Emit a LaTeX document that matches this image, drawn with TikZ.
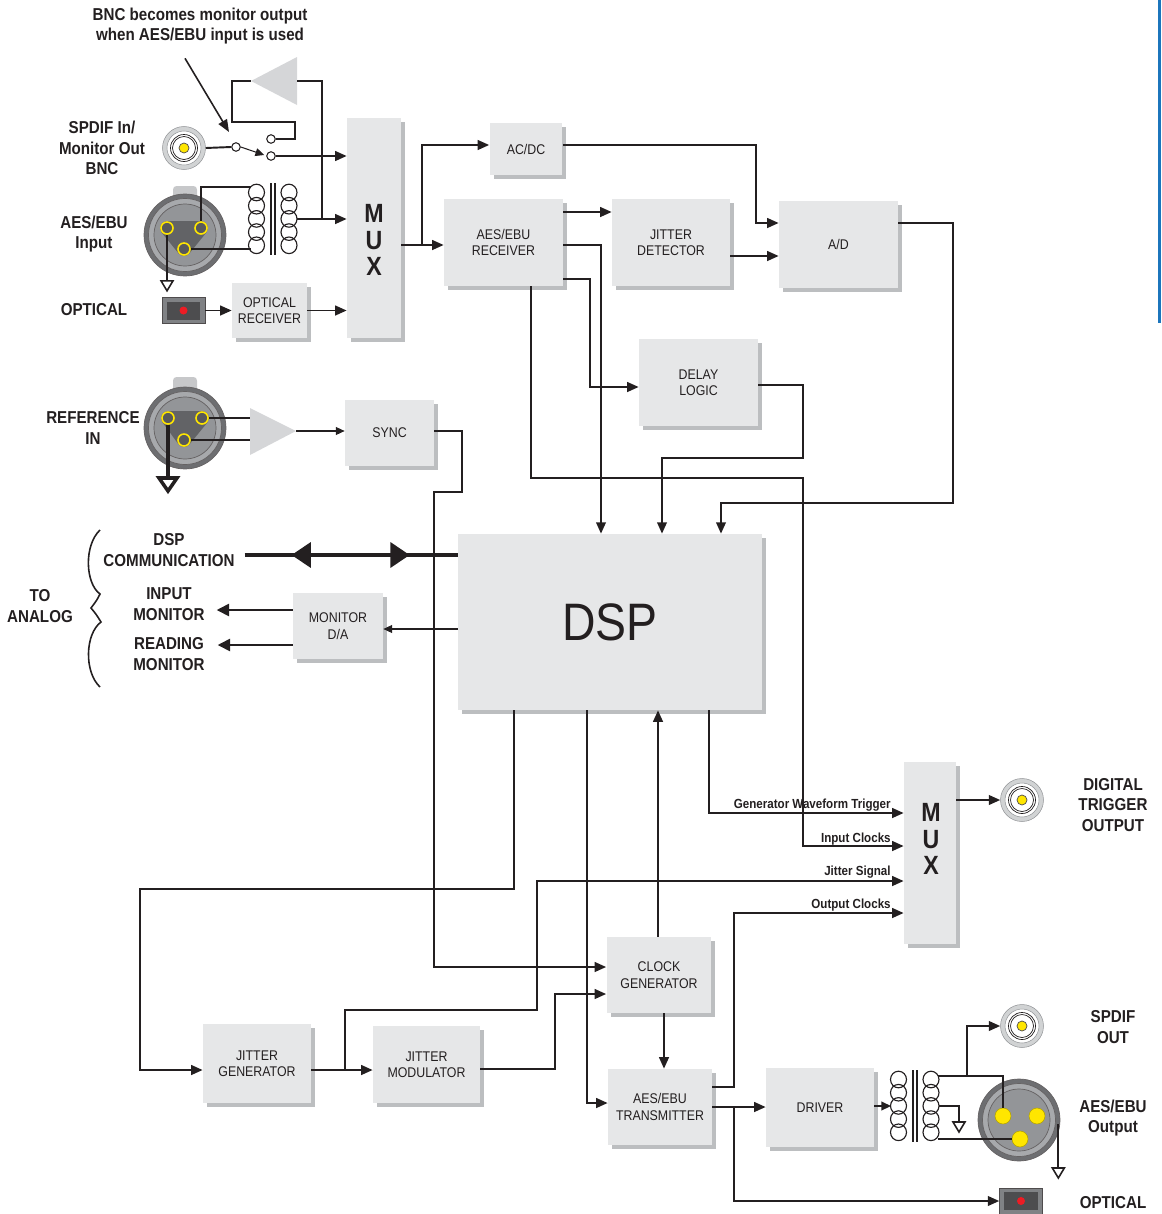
\documentclass[tikz,border=0pt]{standalone}
\usepackage{fontspec}
\setmainfont{Liberation Sans}[FakeStretch=0.88]
\usepackage{tikz}
\usetikzlibrary{calc,arrows.meta,shadows,decorations.markings}

\definecolor{boxfill}{HTML}{E6E7E8}
\definecolor{boxshadow}{HTML}{BCBEC0}
\definecolor{ink}{HTML}{231F20}
\definecolor{ampgray}{HTML}{D5D6D8}
\definecolor{pinyellow}{HTML}{FFE600}
\definecolor{pincore}{HTML}{58595B}
\definecolor{xlrouter}{HTML}{6D6E71}
\definecolor{xlrring}{HTML}{A7A9AC}
\definecolor{xlrinner}{HTML}{939598}
\definecolor{xlrcore}{HTML}{626366}
\definecolor{latchgray}{HTML}{C7C8CA}
\definecolor{bncring}{HTML}{D1D3D4}
\definecolor{optouter}{HTML}{808285}
\definecolor{optinner}{HTML}{4D4D4F}
\definecolor{optred}{HTML}{ED1C24}
\definecolor{bluebar}{HTML}{1C75BC}

\tikzstyle{block} = [rectangle, fill=boxfill, text=ink, align=center, inner sep=0pt, font=\fontsize{8}{9.4}\selectfont, general shadow={fill=boxshadow, shadow xshift=0.08cm, shadow yshift=-0.08cm}]
\tikzstyle{muxtext} = [text=ink, align=center, font=\fontsize{15}{15.3}\selectfont\bfseries]
\tikzstyle{lbl} = [text=ink, align=center, inner sep=1pt, font=\fontsize{9.8}{11.6}\selectfont\bfseries]
\tikzstyle{siglbl} = [text=ink, anchor=base east, inner sep=0pt, font=\fontsize{7.5}{9}\selectfont\bfseries]
\tikzstyle{wire} = [draw=ink, line width=1.1pt]
\tikzstyle{thinwire} = [draw=ink, line width=0.6pt]
\tikzstyle{connector} = [wire, -{Triangle[length=6.5pt,width=5.5pt]}]
\tikzstyle{thinconnector} = [thinwire, -{Triangle[length=5pt,width=4.5pt]}]
\tikzstyle{bnc} = [circle, minimum size=0.86cm, inner sep=0pt, fill=bncring, draw=xlrinner, line width=0.3pt, path picture={
    \filldraw[fill=white, draw=xlrinner, line width=0.3pt] (path picture bounding box.center) circle (0.34cm);
    \draw[ink, line width=0.4pt] (path picture bounding box.center) circle (0.27cm) (path picture bounding box.center) circle (0.23cm);
    \filldraw[fill=pinyellow, draw=ink!80, line width=0.4pt] (path picture bounding box.center) circle (0.1cm);}]
\tikzstyle{xlr} = [circle, minimum size=1.64cm, inner sep=0pt, fill=xlrouter, draw=ink!70, line width=0.4pt, path picture={
    \filldraw[fill=xlrring, draw=ink!70, line width=0.4pt] (path picture bounding box.center) circle (0.73cm);
    \filldraw[fill=xlrinner, draw=ink!70, line width=0.4pt] (path picture bounding box.center) circle (0.62cm);}]
\tikzstyle{pinin} = [circle, minimum size=0.24cm, inner sep=0pt, fill=pincore, draw=pinyellow, line width=0.9pt]
\tikzstyle{pinout} = [circle, minimum size=0.32cm, inner sep=0pt, fill=pinyellow, draw=pinyellow!70!black, line width=0.3pt]
\tikzstyle{contact} = [circle, minimum size=0.17cm, inner sep=0pt, fill=white, draw=ink, line width=0.6pt]
\tikzstyle{optjack} = [rectangle, minimum width=0.86cm, minimum height=0.52cm, inner sep=0pt, fill=optouter, draw=ink!80, line width=0.3pt, path picture={
    \fill[optinner] ([shift={(0.09cm,0.08cm)}]path picture bounding box.south west) rectangle ([shift={(-0.09cm,-0.08cm)}]path picture bounding box.north east);
    \fill[optred] (path picture bounding box.center) circle (0.08cm);}]

\newcommand{\gndsym}[1]{\draw[ink, line width=0.9pt, fill=white] ($#1+(-6,0)$) -- ($#1+(6,0)$) -- ($#1+(0,10)$) -- cycle;}
\newcommand{\coilstack}[2]{\foreach \k in {0,...,4} {\draw[ink, line width=0.65pt] (#1,{#2+7.5+13.2*\k}) ellipse (8 and 8.3);}}
\newcommand{\transformer}[2]{%
    \coilstack{#1+7.5}{#2}
    \coilstack{#1+40}{#2}
    \draw[ink, line width=0.8pt] (#1+22,#2-2) -- (#1+22,#2+70) (#1+26,#2-2) -- (#1+26,#2+70);}

\begin{document}
\begin{tikzpicture}[x=0.02cm, y=-0.02cm]
    \useasboundingbox (0,0) rectangle (1161,1214);
    \draw[bluebar, line width=1.2pt] (1159.5,0) -- (1159.5,323);

    % labels
    \node[lbl] (note) at (200,26) {BNC becomes monitor output\\when AES/EBU input is used};
    \node[lbl] (spdifinlbl) at (102,148) {SPDIF In/\\Monitor Out\\BNC};
    \node[lbl] (aesinlbl) at (94,234) {AES/EBU\\Input};
    \node[lbl] (optinlbl) at (94,310) {OPTICAL};
    \node[lbl] (reflbl) at (93,428) {REFERENCE\\IN};
    \node[lbl] (dspcomm) at (169,550) {DSP\\COMMUNICATION};
    \node[lbl] (inmon) at (169,604) {INPUT\\MONITOR};
    \node[lbl] (rdmon) at (169,654) {READING\\MONITOR};
    \node[lbl] (toanalog) at (40,606) {TO\\ANALOG};
    \node[lbl, font=\fontsize{9.8}{11.9}\selectfont\bfseries] (trigoutlbl) at (1113,805) {DIGITAL\\TRIGGER\\OUTPUT};
    \node[lbl, font=\fontsize{9.8}{11.9}\selectfont\bfseries] (spdifoutlbl) at (1113,1027) {SPDIF\\OUT};
    \node[lbl, font=\fontsize{9.8}{11.9}\selectfont\bfseries] (aesoutlbl) at (1113,1118) {AES/EBU\\Output};
    \node[lbl] (optoutlbl) at (1113,1203) {OPTICAL};

    % blocks
    \node[block, minimum width=1.08cm, minimum height=4.4cm] (muxin) at (374,228) {};
    \node[muxtext] (muxinlbl) at (374,240) {M\\U\\X};
    \node[block, minimum width=1.46cm, minimum height=1.04cm] (acdc) at (526,149) {AC/DC};
    \node[block, minimum width=2.38cm, minimum height=1.74cm] (aesrx) at (503.5,242.5) {AES/EBU\\RECEIVER};
    \node[block, minimum width=2.36cm, minimum height=1.74cm] (jitdet) at (671,242.5) {JITTER\\DETECTOR};
    \node[block, minimum width=2.38cm, minimum height=1.74cm] (ad) at (838.5,244.5) {A/D};
    \node[block, minimum width=1.5cm, minimum height=1.1cm] (optrx) at (269.5,310.5) {OPTICAL\\RECEIVER};
    \node[block, minimum width=2.38cm, minimum height=1.74cm] (delay) at (698.5,382.5) {DELAY\\LOGIC};
    \node[block, minimum width=1.78cm, minimum height=1.32cm] (sync) at (389.5,433) {SYNC};
    \node[block, minimum width=6.08cm, minimum height=3.52cm, font=\fontsize{30}{30}\selectfont] (dsp) at (610,622) {DSP};
    \node[block, minimum width=1.8cm, minimum height=1.32cm] (monda) at (338,626) {MONITOR\\D/A};
    \node[block, minimum width=1.04cm, minimum height=3.66cm] (mux2) at (930,853) {};
    \node[muxtext] (mux2lbl) at (931,839) {M\\U\\X};
    \node[block, minimum width=2.1cm, minimum height=1.52cm] (clkgen) at (659,975) {CLOCK\\GENERATOR};
    \node[block, minimum width=2.08cm, minimum height=1.52cm] (aestx) at (660,1107) {AES/EBU\\TRANSMITTER};
    \node[block, minimum width=2.16cm, minimum height=1.58cm] (driver) at (820,1107.5) {DRIVER};
    \node[block, minimum width=2.16cm, minimum height=1.58cm] (jitgen) at (257,1063.5) {JITTER\\GENERATOR};
    \node[block, minimum width=2.14cm, minimum height=1.54cm] (jitmod) at (426.5,1064.5) {JITTER\\MODULATOR};

    % connectors on the input side
    \node[bnc] (bncin) at (184,148) {};
    \node[contact] (swpole) at (236,147) {};
    \node[contact] (swup) at (271,139) {};
    \node[contact] (swdn) at (271,156) {};
    \fill[ampgray] (297,57) -- (297,105) -- (251,81) -- cycle;
    \coordinate (monin) at (251,81);
    \coordinate (monout) at (297,81);
    \draw[wire] (bncin.east) -- (swpole.west);
    \draw[thinconnector] (swpole.east) -- ($(swdn.west)+(-2,-1)$);
    \draw[connector] (swdn.east) -- (swdn.east -| muxin.west);
    \draw[wire] (swup.east) -| (295,122) -| (232,81) -- (monin);
    \draw[thinconnector, line width=0.9pt, -{Triangle[length=7pt,width=5.5pt]}] ($(note.south)+(-15,12)$) -- ($(swpole.center)+(-7,-15)$);

    \fill[latchgray, rounded corners=2pt] (173,186) rectangle (197,204);
    \node[xlr] (xin) at (185,235) {};
    \draw[xlrcore, line width=0.28cm, line join=round, fill=xlrcore] (167,228) -- (201,228) -- (184,249) -- cycle;
    \node[pinin] (ain1) at (167,228) {};
    \node[pinin] (ain2) at (201,228) {};
    \node[pinin] (ain3) at (184,249) {};
    \transformer{249}{185}
    \coordinate (xfin-p1) at (251,187);
    \coordinate (xfin-p2) at (251,249);
    \coordinate (xfin-s) at (297,219);
    \draw[wire] (ain2.north) |- (xfin-p1);
    \draw[wire] (ain3.east) -- (xfin-p2);
    \draw[wire] (ain1.south) -- ++(0,46) coordinate (gnd1);
    \gndsym{(gnd1)}
    \draw[connector] (xfin-s) -- (xfin-s -| muxin.west);
    \draw[wire] (monout) -| ($(xfin-s)+(25,0)$);

    \node[optjack] (optin) at (183.5,310.5) {};
    \draw[connector] (optin.east) -- (optrx.west);
    \draw[connector] (optrx.east) -- (optrx.east -| muxin.west);

    % reference input
    \fill[latchgray, rounded corners=2pt] (173,377) rectangle (197,396);
    \node[xlr] (xref) at (185,428) {};
    \draw[xlrcore, line width=0.28cm, line join=round, fill=xlrcore] (168,418) -- (202,418) -- (184,440) -- cycle;
    \node[pinin] (rin1) at (168,418) {};
    \node[pinin] (rin2) at (202,418) {};
    \node[pinin] (rin3) at (184,440) {};
    \fill[ampgray] (250,408) -- (250,455) -- (296,431) -- cycle;
    \coordinate (refamp-in1) at (250,418);
    \coordinate (refamp-in2) at (250,440);
    \coordinate (refamp-out) at (296,431);
    \draw[wire] (rin2.east) -- (refamp-in1);
    \draw[wire] (rin3.east) -- (refamp-in2);
    \draw[thinconnector] (refamp-out) -- (sync.west |- refamp-out);
    \draw[ink, line width=2.2pt] (rin1.south) -- (168,478) coordinate (gnd2);
    \draw[ink, line width=2pt, fill=white, line join=miter] ($(gnd2)+(-9,0)$) -- ($(gnd2)+(9,0)$) -- ($(gnd2)+(0,13)$) -- cycle;

    % receiver side
    \draw[wire] (muxin.east |- 0,245) -- (422,245) coordinate (split1);
    \draw[connector] (split1) |- (acdc.west |- 0,145);
    \draw[connector] (split1) -- (aesrx.west |- split1);
    \draw[connector] (acdc.east |- 0,145) -| (756,223) -- (ad.west |- 0,223);
    \draw[connector] (aesrx.east |- 0,212) -- (jitdet.west |- 0,212);
    \draw[connector] (jitdet.east |- 0,256) -- (ad.west |- 0,256);
    \draw[connector] (aesrx.east |- 0,245) -| (601,0 |- dsp.north);
    \draw[connector] (aesrx.east |- 0,279) -| (590,387) -- (delay.west |- 0,387);
    \draw[connector] (delay.east |- 0,385) -| (803,458) -| (662,0 |- dsp.north);
    \draw[connector] (ad.east |- 0,223) -| (953,503) -| (721,0 |- dsp.north);
    \draw[connector] (aesrx.south -| 531,0) -- (531,478) -| (803,846) -- (mux2.west |- 0,846);
    \draw[connector] (sync.east |- 0,431) -| (462,492) -| (434,967) -- (clkgen.west |- 0,967);

    % analog side
    \draw[draw=ink, line width=2.6pt, postaction={decorate}, decoration={markings,
        mark=at position 0.22 with {\arrowreversed{Triangle[length=11pt,width=14pt]}},
        mark=at position 0.775 with {\arrow{Triangle[length=11pt,width=14pt]}}}]
        ($(dspcomm.east |- 0,555)+(8,0)$) -- (dsp.west |- 0,555);
    \draw[thinconnector] (dsp.west |- 0,629) -- (monda.east |- 0,629);
    \draw[connector, line width=0.9pt, -{Triangle[length=7pt,width=7pt]}] (monda.west |- 0,610) -- ($(inmon.east |- 0,610)+(10,0)$);
    \draw[connector, line width=0.9pt, -{Triangle[length=7pt,width=7pt]}] (monda.west |- 0,645) -- ($(rdmon.east |- 0,645)+(11,0)$);
    \draw[ink, line width=0.9pt] (100,530) .. controls (84,545) and (85,583) .. (100,594)
        .. controls (97,600) .. (91,608) .. controls (96,614) .. (101,622)
        .. controls (85,634) and (84,672) .. (100,687);

    % output side
    \draw[connector] (514,0 |- dsp.south) -- (514,889) -| (140,1070) -- (jitgen.west |- 0,1070);
    \draw[connector] (587,0 |- dsp.south) |- (aestx.west |- 0,1103);
    \draw[connector] (658,0 |- clkgen.north) -- (658,0 |- dsp.south);
    \draw[connector] (709,0 |- dsp.south) |- (mux2.west |- 0,813);
    \draw[connector] (jitgen.east |- 0,1070) -- (jitmod.west |- 0,1070);
    \coordinate (jsplit) at (345,1070);
    \draw[connector] (jsplit) |- (537,1010) |- (mux2.west |- 0,881);
    \draw[connector] (jitmod.east |- 0,1069) -| (555,994) -- (clkgen.west |- 0,994);
    \draw[connector] (664,0 |- clkgen.south) -- (664,0 |- aestx.north);
    \draw[connector] (aestx.east |- 0,1087) -| (734,913) -- (mux2.west |- 0,913);
    \draw[connector] (aestx.east |- 0,1107) -- (driver.west |- 0,1107);

    \node[siglbl] (gwtlbl) at (891,808) {Generator Waveform Trigger};
    \node[siglbl] (inclklbl) at (891,842) {Input Clocks};
    \node[siglbl] (jitsiglbl) at (891,875) {Jitter Signal};
    \node[siglbl] (outclklbl) at (891,908) {Output Clocks};

    \node[bnc] (bnctrig) at (1022,800) {};
    \draw[connector] (mux2.east |- 0,800) -- (bnctrig.west);

    \node[bnc] (bncout) at (1022,1026) {};
    \node[xlr] (xout) at (1019,1120) {};
    \node[pinout] (aout1) at (1003,1116) {};
    \node[pinout] (aout2) at (1037,1116) {};
    \node[pinout] (aout3) at (1020,1139) {};
    \transformer{891}{1072}
    \coordinate (xfout-p) at (891,1106);
    \coordinate (xfout-s1) at (938,1076);
    \coordinate (xfout-s2) at (939,1106);
    \coordinate (xfout-s3) at (938,1139);
    \draw[connector, line width=0.9pt, -{Triangle[length=5.5pt,width=5pt]}] (driver.east |- xfout-p) -- (xfout-p);
    \draw[wire] (xfout-s1) -| (aout1.north);
    \coordinate (spsplit) at (967,1076);
    \draw[connector] (spsplit) |- (bncout.west);
    \draw[wire] (xfout-s2) -| (959,1122) coordinate (gnd3);
    \gndsym{(gnd3)}
    \draw[wire] (xfout-s3) -- (aout3.west);
    \draw[wire] ($(xout.east)+(-2,4)$) -- ++(0,44) coordinate (gnd4);
    \gndsym{(gnd4)}

    \node[optjack] (optout) at (1021,1201) {};
    \coordinate (txsplit) at (734,1107);
    \draw[connector] (txsplit) |- (optout.west);
\end{tikzpicture}
\end{document}
